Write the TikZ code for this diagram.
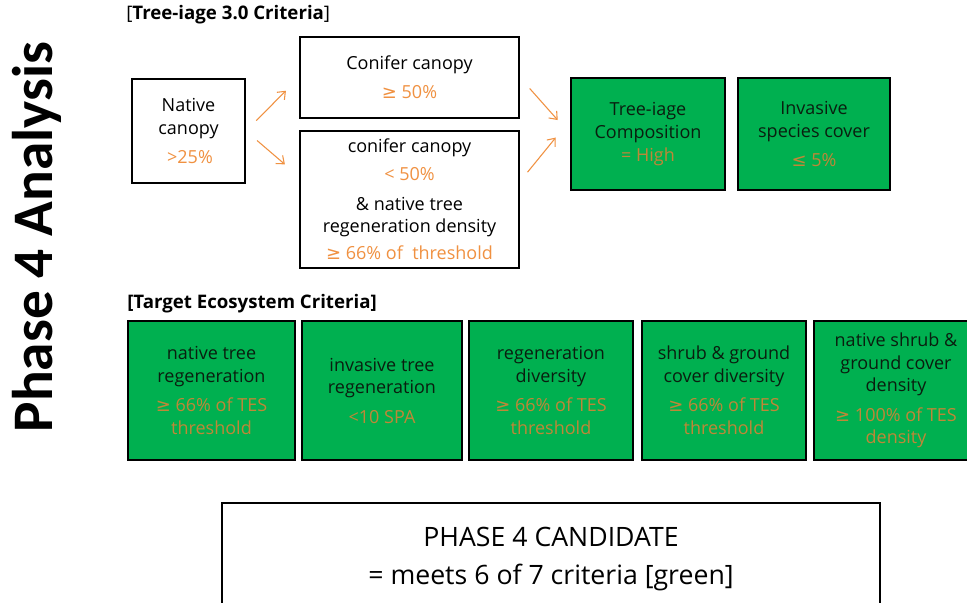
\documentclass[tikz,border=0pt]{standalone}
\usepackage{fontspec}
\setmainfont{Open Sans}
\newfontfamily\titlefont{Carlito}
\newfontfamily\mathsym{DejaVu Sans}
\usetikzlibrary{arrows.meta,calc}

\definecolor{boxgreen}{RGB}{0,176,80}
\definecolor{ortext}{RGB}{240,145,65}
\definecolor{orgreen}{RGB}{192,135,55}
\definecolor{darkgreen}{RGB}{10,30,15}

\newcommand{\ot}[1]{\textcolor{ortext}{#1}}
\newcommand{\og}[1]{\textcolor{orgreen}{#1}}
\newcommand{\atleast}{{\mathsym ≥}}
\newcommand{\atmost}{{\mathsym ≤}}

\begin{document}
\begin{tikzpicture}[x=0.75pt,y=-0.75pt,
  crit/.style={draw=black,line width=1.4pt,fill=white,align=center,inner sep=0pt,
    font=\fontsize{13.5}{17}\selectfont},
  critg/.style={crit,fill=boxgreen,text=darkgreen},
  arr/.style={draw=ortext,line width=0.8pt,-{Straight Barb[length=5pt,width=8pt]},
    shorten <=11pt,shorten >=14pt},
  hdr/.style={font=\fontsize{14}{17}\selectfont\bfseries,anchor=west,inner sep=0pt}]
\clip (0,0) rectangle (967,603);
\fill[white] (0,0) rectangle (967,603);

% side title
\node[rotate=90,font=\titlefont\fontsize{43}{43}\selectfont\bfseries] (title) at (37,237) {Phase 4 Analysis};

% tree-iage criteria
\node[hdr] (hdrtree) at (126,15) {{\mdseries[}Tree-iage 3.0 Criteria{\mdseries]}};
\node[crit,minimum width=84.75pt,minimum height=78pt] (native) at (188.5,131)
  {Native\\canopy\\[5pt]\ot{\,>25\%}};
\node[crit,minimum width=164.25pt,minimum height=60.75pt] (conifer) at (409.5,77.5)
  {Conifer canopy\\[5pt]\ot{\atleast{} 50\%}};
\node[crit,minimum width=164.25pt,minimum height=102.75pt] (lowbox) at (409.5,199.5)
  {conifer canopy\\[4pt]\ot{< 50\%}\\[5pt]\& native tree\\regeneration density\\[3pt]\ot{\atleast{} 66\% of\ \ threshold}};
\node[critg,minimum width=115.5pt,minimum height=84pt] (comp) at (648,134)
  {Tree-iage\\Composition\\\og{= High}};
\node[critg,minimum width=114pt,minimum height=84pt] (invcover) at (814,134)
  {Invasive\\species cover\\[5pt]\og{\atmost{} 5\%}};

\draw[arr] (native.east) -- (conifer.west);
\draw[arr] (native.east) -- ($(lowbox.west)+(0,-23)$);
\draw[arr] (conifer.east) -- (comp.west);
\draw[arr,shorten <=9pt,shorten >=17pt] ($(lowbox.east)+(0,-18)$) -- ($(comp.west)+(0,-14)$);

% target ecosystem criteria
\node[hdr] (hdrtes) at (127,304) {[Target Ecosystem Criteria]};
\node[critg,minimum width=125.25pt,minimum height=104.25pt] (tesnative) at (211.5,390.5)
  {native tree\\regeneration\\[5pt]\og{\atleast{} 66\% of TES}\\\og{threshold}};
\node[critg,minimum width=120pt,minimum height=104.25pt] (tesinv) at (382,390.5)
  {invasive tree\\regeneration\\[5pt]\og{<10 SPA}};
\node[critg,minimum width=123pt,minimum height=104.25pt] (tesdiv) at (551,390.5)
  {regeneration\\diversity\\[5pt]\og{\atleast{} 66\% of TES}\\\og{threshold}};
\node[critg,minimum width=123pt,minimum height=104.25pt] (tesshrub) at (724,390.5)
  {shrub \& ground\\cover diversity\\[5pt]\og{\atleast{} 66\% of TES}\\\og{threshold}};
\node[critg,minimum width=123pt,minimum height=104.25pt] (tesdens) at (896,390.5)
  {native shrub \&\\ground cover\\density\\[5pt]\og{\atleast{} 100\% of TES}\\\og{density}};

% result
\node[crit,line width=1pt,minimum width=493.5pt,minimum height=84pt,
  font=\fontsize{20}{28.5}\selectfont] (cand) at (551,559)
  {PHASE 4 CANDIDATE\\= meets 6 of 7 criteria [green]};
\end{tikzpicture}
\end{document}
